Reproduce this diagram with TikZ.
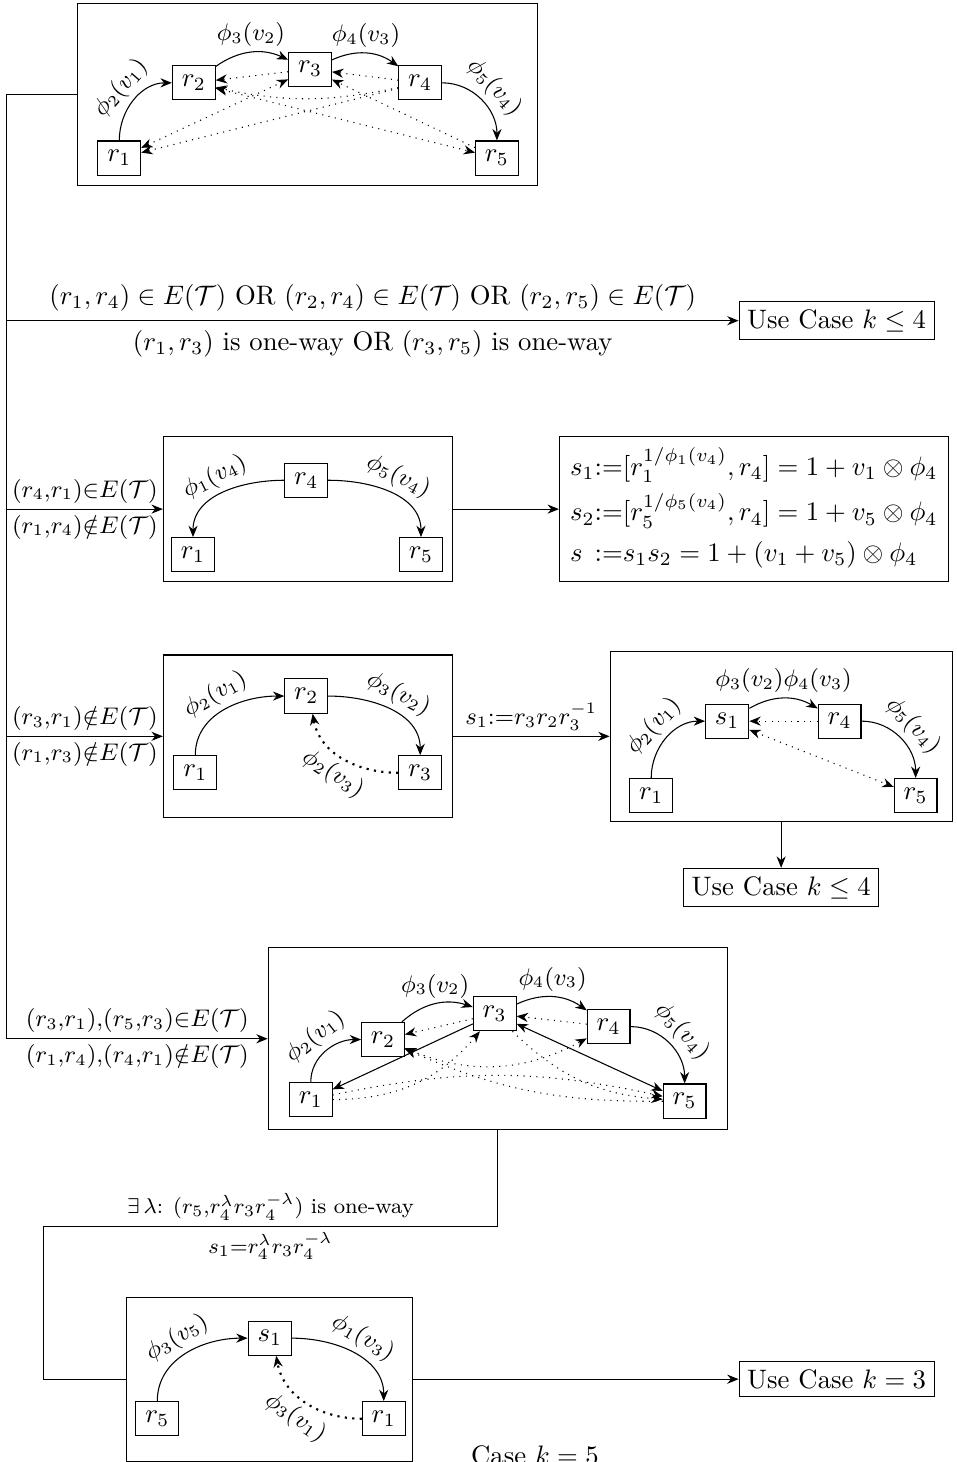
\documentclass[tikz,border=0pt]{standalone}
\usepackage{amsmath,amssymb}
\usepackage{tikz}
\usetikzlibrary{arrows.meta,positioning}
\tikzset{
  frame/.style={draw=black, inner sep=0pt},
  vert/.style={draw=black, inner xsep=3.5pt, inner ysep=3pt, minimum height=0.45cm},
  casebox/.style={draw=black, inner sep=3pt},
  arrow/.style={-{Stealth[length=1.5mm,width=1.2mm]}},
  biarrow/.style={{Stealth[length=1.5mm,width=1.2mm]}-{Stealth[length=1.5mm,width=1.2mm]}},
  dotarrow/.style={-{Stealth[length=1.5mm,width=1.2mm]}, dotted},
  bidot/.style={{Stealth[length=1.5mm,width=1.2mm]}-{Stealth[length=1.5mm,width=1.2mm]}, dotted},
  heavydot/.style={-{Stealth[length=1.5mm,width=1.2mm]}, thick, dotted}
}

\begin{document}
\begin{tikzpicture}[
  lbl/.style={font=\small, inner sep=2pt},
  cond/.style={font=\footnotesize, inner sep=2pt}
]
\useasboundingbox (0,0) rectangle (12.59,-19.24);
% general case
\node[frame, minimum width=6.05cm, minimum height=2.39cm] (fg) at (4.05,-1.24) {};
\node[vert] (g1) at (1.57,-2.08) {$r_1$};
\node[vert] (g2) at (2.55,-1.09) {$r_2$};
\node[vert] (g3) at (4.08,-0.91) {$r_3$};
\node[vert] (g4) at (5.53,-1.09) {$r_4$};
\node[vert] (g5) at (6.54,-2.08) {$r_5$};
\draw[arrow] (g1) to[out=90,in=180] node[lbl, above, sloped] {$\phi_2(v_1)$} (g2);
\draw[arrow] (g2) to[bend left] node[lbl, above] {$\phi_3(v_2)$} (g3);
\draw[arrow] (g3) to[bend left] node[lbl, above] {$\phi_4(v_3)$} (g4);
\draw[arrow] (g4) to[out=0,in=90] node[lbl, above, sloped] {$\phi_5(v_4)$} (g5);
\draw[dotarrow] (g3) -- (g2);
\draw[dotarrow] (g4) -- (g3);
\draw[dotarrow] (g4) to[bend left=12] (g2);
\draw[dotarrow] (g4) -- (g1);
\draw[dotarrow] (g5) -- (g3);
\draw[bidot] (g1) -- (g3);
\draw[bidot] (g2) -- (g5);

% trunk and branches
\coordinate (br1) at (0.09,-4.22);
\coordinate (br2) at (0.09,-6.70);
\coordinate (br3) at (0.09,-9.69);
\coordinate (br4) at (0.09,-13.67);
\draw (fg.west) -| (br4);

% branch 1
\node[casebox] (uc1) at (11.01,-4.22) {Use Case $k\leq 4$};
\draw[arrow] (br1) -- node[above] {$(r_1,r_4)\in E(\mathcal{T})$ OR $(r_2,r_4)\in E(\mathcal{T})$ OR $(r_2,r_5)\in E(\mathcal{T})$}
  node[below] {$(r_1,r_3)$ is one-way OR $(r_3,r_5)$ is one-way} (uc1);

% branch 2
\node[frame, minimum width=3.80cm, minimum height=1.91cm] (fp) at (4.05,-6.70) {};
\node[vert] (p4) at (4.03,-6.32) {$r_4$};
\node[vert] (p1) at (2.54,-7.30) {$r_1$};
\node[vert] (p5) at (5.54,-7.30) {$r_5$};
\draw[arrow] (p4) to[out=180,in=90] node[lbl, above, sloped] {$\phi_1(v_4)$} (p1);
\draw[arrow] (p4) to[out=0,in=90] node[lbl, above, sloped] {$\phi_5(v_4)$} (p5);
\draw[arrow] (br2) -- node[lbl, above] {$(r_4{,}r_1){\in}E(\mathcal{T})$}
  node[lbl, below] {$(r_1{,}r_4){\notin}E(\mathcal{T})$} (fp);
\node[casebox, inner sep=4pt] (sdef) at (9.92,-6.70) {$\begin{array}{@{}l@{}l@{}}
  s_1 & {:=}[r_1^{1/\phi_1(v_4)},r_4] = 1+v_1\otimes\phi_4\\[3pt]
  s_2 & {:=}[r_5^{1/\phi_5(v_4)},r_4] = 1+v_5\otimes\phi_4\\[3pt]
  s\ & {:=}s_1s_2 = 1+(v_1+v_5)\otimes\phi_4
  \end{array}$};
\draw[arrow] (fp) -- (sdef);

% branch 3
\node[frame, minimum width=3.80cm, minimum height=2.14cm] (fq) at (4.05,-9.69) {};
\node[vert] (q2) at (4.03,-9.16) {$r_2$};
\node[vert] (q1) at (2.57,-10.17) {$r_1$};
\node[vert] (q3) at (5.53,-10.17) {$r_3$};
\draw[arrow] (q1) to[out=90,in=180] node[lbl, above, sloped] {$\phi_2(v_1)$} (q2);
\draw[arrow] (q2) to[out=0,in=90] node[lbl, above, sloped] {$\phi_3(v_2)$} (q3);
\draw[heavydot] (q3) to[out=180,in=-80] node[lbl, below, sloped] {$\phi_2(v_3)$} (q2.-70);
\draw[arrow] (br3) -- node[lbl, above] {$(r_3{,}r_1){\notin}E(\mathcal{T})$}
  node[lbl, below] {$(r_1{,}r_3){\notin}E(\mathcal{T})$} (fq);
\node[frame, minimum width=4.50cm, minimum height=2.24cm] (fm) at (10.28,-9.69) {};
\node[vert] (ms) at (9.57,-9.49) {$s_1$};
\node[vert] (m4) at (11.05,-9.49) {$r_4$};
\node[vert] (m1) at (8.57,-10.47) {$r_1$};
\node[vert] (m5) at (12.05,-10.47) {$r_5$};
\draw[arrow] (m1) to[out=90,in=180] node[lbl, above, sloped] {$\phi_2(v_1)$} (ms);
\draw[arrow] (ms) to[bend left] node[lbl, above] {$\phi_3(v_2)\phi_4(v_3)$} (m4);
\draw[arrow] (m4) to[out=0,in=90] node[lbl, above, sloped] {$\phi_5(v_4)$} (m5);
\draw[dotarrow] (m4) -- (ms);
\draw[bidot] (ms) -- (m5);
\draw[arrow] (fq) -- node[lbl, above] {$s_1{:=}r_3r_2r_3^{-1}$} (fm);
\node[casebox] (uc2) at (10.28,-11.68) {Use Case $k\leq 4$};
\draw[arrow] (fm) -- (uc2);

% branch 4
\node[frame, minimum width=6.04cm, minimum height=2.39cm] (fc) at (6.55,-13.67) {};
\node[vert] (c2) at (5.04,-13.68) {$r_2$};
\node[vert] (c3) at (6.51,-13.34) {$r_3$};
\node[vert] (c4) at (8.01,-13.51) {$r_4$};
\node[vert] (c1) at (4.09,-14.47) {$r_1$};
\node[vert] (c5) at (9.01,-14.49) {$r_5$};
\draw[arrow] (c1) to[out=90,in=180] node[lbl, above, sloped] {$\phi_2(v_1)$} (c2);
\draw[arrow] (c2) to[bend left] node[lbl, above] {$\phi_3(v_2)$} (c3);
\draw[arrow] (c3) to[bend left] node[lbl, above] {$\phi_4(v_3)$} (c4);
\draw[arrow] (c4) to[out=0,in=90] node[lbl, above, sloped] {$\phi_5(v_4)$} (c5);
\draw[arrow] (c3) -- (c1);
\draw[biarrow] (c3) -- (c5);
\draw[dotarrow] (c3) -- (c2);
\draw[dotarrow] (c4) -- (c3);
\draw[bidot] (c2) to[bend right=25] (c4);
\draw[dotarrow] (c5) to[bend left=12] (c2);
\draw[dotarrow] (c1) to[bend right=25] (c3);
\draw[dotarrow] (c1) to[bend left=12] (c5);
\draw[dotarrow] (c3) to[bend right=20] (c5);
\draw[arrow] (br4) -- node[lbl, above] {$(r_3{,}r_1){,}(r_5{,}r_3){\in}E(\mathcal{T})$}
  node[lbl, below] {$(r_1{,}r_4){,}(r_4{,}r_1){\notin}E(\mathcal{T})$} (fc);

% one-way step
\coordinate (turn) at (0.57,-16.14);
\node[frame, minimum width=3.76cm, minimum height=2.16cm] (fn) at (3.55,-18.15) {};
\node[vert] (ns) at (3.55,-17.61) {$s_1$};
\node[vert] (n5) at (2.07,-18.67) {$r_5$};
\node[vert] (n1) at (5.05,-18.67) {$r_1$};
\draw[arrow] (n5) to[out=90,in=180] node[lbl, above, sloped] {$\phi_3(v_5)$} (ns);
\draw[arrow] (ns) to[out=0,in=90] node[lbl, above, sloped] {$\phi_1(v_3)$} (n1);
\draw[heavydot] (n1) to[out=180,in=-80] node[lbl, below, sloped] {$\phi_3(v_1)$} (ns.-70);
\draw (fc.south) |- node[cond, pos=0.75, above] {$\exists\,\lambda$: $(r_5{,}r_4^{\lambda}r_3r_4^{-\lambda})$ is one-way}
  node[cond, pos=0.75, below] {$s_1{=}r_4^{\lambda}r_3r_4^{-\lambda}$} (turn) |- (fn.west);
\node[casebox] (uc3) at (11.01,-18.15) {Use Case $k=3$};
\draw[arrow] (fn) -- (uc3);

\node[anchor=base] (title) at (7.04,-19.27) {Case $k=5$};
\end{tikzpicture}
\end{document}
